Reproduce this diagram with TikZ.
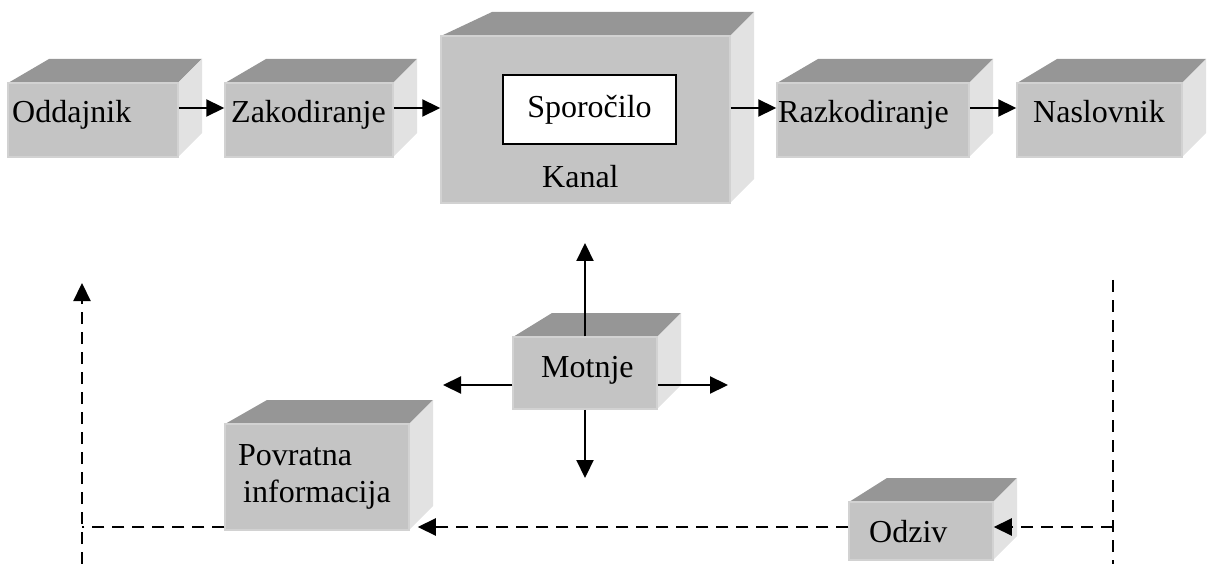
\documentclass[tikz,border=0pt]{standalone}
\usepackage{fontspec}
\setmainfont{Liberation Serif}
\usetikzlibrary{arrows.meta}

\definecolor{topgray}{RGB}{150,150,150}
\definecolor{sidegray}{RGB}{226,226,226}
\definecolor{frontgray}{RGB}{196,196,196}
\definecolor{edgegray}{RGB}{210,210,210}

% 3D box: name, x0, y0, x1, y1 (front face), slant of the back left corner
\newcommand{\cubebox}[6]{%
  \fill[topgray] (#2,#3) -- ++(#6,-24) -- ({#4+24},{#3-24}) -- (#4,#3) -- cycle;
  \fill[sidegray] (#4,#3) -- ({#4+24},{#3-24}) -- ({#4+24},{#5-24}) -- (#4,#5) -- cycle;
  \node[face, minimum width={(#4-#2)*1pt}, minimum height={(#5-#3)*1pt}] (#1) at ({(#2+#4)/2},{(#3+#5)/2}) {};
}

\begin{document}
\begin{tikzpicture}[
  x=1pt, y=-1pt,
  font=\fontsize{32}{35}\selectfont,
  face/.style={fill=frontgray, draw=edgegray, line width=1.5pt, inner sep=0pt},
  lbl/.style={anchor=base west, inner sep=0pt},
  msg/.style={draw, fill=white, line width=1.5pt, minimum width=173pt, minimum height=69pt},
  arr/.style={-{Triangle[length=18pt, width=17pt]}, line width=2.2pt},
  fb/.style={line width=2.2pt, dash pattern=on 12pt off 8pt},
  fbarr/.style={fb, -{Triangle[length=18pt, width=17pt]}}
]
  \useasboundingbox (0,0) rectangle (1208,564);

  % top row
  \cubebox{odd}{8}{83}{178}{157}{41}
  \cubebox{zak}{225}{83}{393}{157}{41}
  \cubebox{kan}{441}{36}{730}{203}{51}
  \cubebox{raz}{777}{83}{969}{157}{41}
  \cubebox{nas}{1017}{83}{1182}{157}{40}
  \node[lbl] (odd-t) at (12,123) {Oddajnik};
  \node[lbl] (zak-t) at (231,123) {Zakodiranje};
  \node[lbl] (raz-t) at (778,123) {Razkodiranje};
  \node[lbl] (nas-t) at (1033,123) {Naslovnik};
  \node[msg] (spo) at (589.5,109.5) {Sporočilo};
  \node[lbl] (kan-t) at (542,188) {Kanal};

  \draw[arr] ([yshift=12pt]odd.east) -- ([yshift=12pt]odd.east -| zak.west);
  \draw[arr] ([yshift=12pt]zak.east) -- ([yshift=12pt]zak.east -| kan.west);
  \draw[arr] ([yshift=12pt]raz.west -| kan.east) -- ([yshift=12pt]raz.west);
  \draw[arr] ([yshift=12pt]raz.east) -- ([yshift=12pt]raz.east -| nas.west);

  % noise
  \cubebox{mot}{513}{337}{657}{409}{39}
  \node[lbl] (mot-t) at (541,377) {Motnje};
  \coordinate (mot-up) at (585,243);
  \coordinate (mot-dn) at (585,478);
  \coordinate (mot-lt) at (443,385);
  \coordinate (mot-rt) at (728,385);
  \draw[arr] (mot.north) -- (mot-up);
  \draw[arr] (mot.south) -- (mot-dn);
  \draw[arr] (mot-lt -| mot.west) -- (mot-lt);
  \draw[arr] (mot-rt -| mot.east) -- (mot-rt);

  % feedback
  \cubebox{pov}{225}{424}{409}{530}{42}
  \node[lbl] (pov-t1) at (238,465) {Povratna};
  \node[lbl] (pov-t2) at (243,502) {informacija};
  \cubebox{odz}{849}{502}{993}{560}{38}
  \node[lbl] (odz-t) at (869,542) {Odziv};

  \coordinate (rt-top) at (1113,280);
  \coordinate (rt-bot) at (1113,564);
  \coordinate (rt) at (1113,527);
  \coordinate (lt-top) at (82,283);
  \coordinate (lt-bot) at (82,564);
  \coordinate (lt) at (82,527);
  \draw[fb] (rt-top) -- (rt-bot);
  \draw[fbarr] (rt) -- (rt -| odz.east);
  \draw[fbarr] (rt -| odz.west) -- ([xshift=8pt]rt -| pov.east);
  \draw[fb] (rt -| pov.west) -- (lt);
  \draw[fbarr] (lt-bot) -- (lt-top);
\end{tikzpicture}
\end{document}
